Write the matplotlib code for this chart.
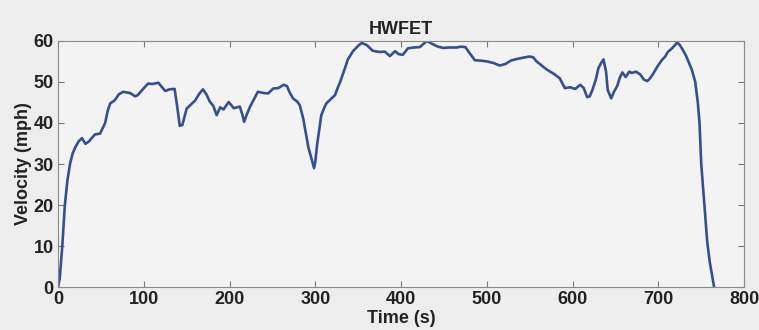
import matplotlib
matplotlib.use("Agg")
import matplotlib.pyplot as plt

time_s = [0, 2, 5, 8, 11, 14, 17, 20, 24, 28,
          32, 36, 43, 49, 55, 58, 61, 66, 71, 76,
          84, 90, 93, 98, 105, 110, 117, 121, 125, 130,
          136, 139, 142, 145, 150, 154, 160, 165, 169, 173,
          177, 181, 185, 189, 193, 199, 205, 212, 215, 217,
          220, 224, 229, 233, 240, 245, 251, 257, 263, 267,
          270, 274, 279, 282, 286, 289, 292, 296, 298.5, 300,
          302, 305, 307, 310, 313, 318, 323, 326, 329, 334,
          338, 344, 350, 354, 360, 367, 375, 381, 387, 393,
          397, 402, 408, 415, 422, 430, 437, 443, 449, 457,
          465, 470, 475, 480, 486, 493, 500, 508, 515, 522,
          528, 535, 542, 550, 554, 558, 564, 570, 578, 585,
          591, 597, 603, 609, 613, 617, 620, 623, 627, 630,
          633, 636, 639, 641, 645, 648, 652, 655, 658, 662,
          666, 669, 674, 679, 683, 687, 690, 694, 699, 704,
          708, 711, 716, 722, 725, 728, 732, 735, 739, 743,
          746, 748, 750, 753, 757, 760, 765]
velocity_mph = [0, 2, 10, 20, 26, 30, 32.5, 34, 35.5, 36.3,
                34.9, 35.5, 37.2, 37.4, 40, 43, 44.8, 45.5, 47, 47.6,
                47.3, 46.5, 46.8, 48, 49.6, 49.5, 49.8, 48.8, 47.8, 48.2,
                48.3, 44, 39.3, 39.5, 43.5, 44.3, 45.5, 47.2, 48.2, 47,
                45.2, 44.2, 41.9, 43.8, 43.3, 45.1, 43.6, 44, 42, 40.3,
                42, 44, 46, 47.6, 47.3, 47.2, 48.4, 48.5, 49.3, 49,
                47.5, 46, 45.2, 44.3, 41, 37.5, 34, 31, 29, 30.5,
                34.5, 39, 41.9, 43.5, 44.8, 45.8, 46.8, 48.5, 50, 53,
                55.5, 57.5, 58.8, 59.5, 59, 57.6, 57.3, 57.4, 56.3, 57.5,
                56.8, 56.6, 58.2, 58.4, 58.5, 60, 59.2, 58.6, 58.3, 58.4,
                58.4, 58.6, 58.5, 57, 55.3, 55.2, 55, 54.6, 54, 54.4,
                55.2, 55.6, 55.9, 56.2, 56, 55, 54, 53, 52, 50.9,
                48.5, 48.7, 48.3, 49.3, 48.5, 46.3, 46.5, 48, 50.5, 53.3,
                54.5, 55.5, 52.5, 48, 46, 47.5, 49, 51, 52.3, 51.2,
                52.5, 52.2, 52.5, 51.8, 50.6, 50.2, 50.8, 52, 53.8, 55.3,
                56.2, 57.3, 58.2, 59.6, 59, 58, 56.5, 55, 53, 50,
                45, 40, 30, 22, 11, 6, 0]

fig = plt.figure(figsize=(7.59, 3.30), dpi=100, facecolor="#ededed")
ax = fig.add_axes([0.0764, 0.130, 0.904, 0.746])
ax.set_facecolor("#f3f3f3")

ax.plot(time_s, velocity_mph, color="#34508f", lw=1.9, solid_joinstyle="round")

fam = ["Liberation Sans", "DejaVu Sans"]
font = dict(family=fam, weight="bold", size=13)
ax.set_xlim(0, 800)
ax.set_ylim(0, 60)
ax.set_xticks(range(0, 801, 100))
ax.set_yticks(range(0, 61, 10))
for lbl in ax.get_xticklabels() + ax.get_yticklabels():
    lbl.set_fontfamily(fam)
    lbl.set_fontweight("bold")
    lbl.set_fontsize(13)
    lbl.set_color("#222222")
ax.tick_params(direction="in", top=True, right=True, length=4, width=0.8,
               color="#777777")
ax.tick_params(axis="x", pad=3)
ax.tick_params(axis="y", pad=3)
for sp in ax.spines.values():
    sp.set_color("#8a8a8a")
    sp.set_linewidth(0.8)

ax.set_xlabel("Time (s)", labelpad=1, color="#222222", **font)
ax.set_ylabel("Velocity (mph)", labelpad=1, color="#222222", **font)
ax.set_title("HWFET", pad=5, color="#222222", **font)

fig.savefig("out.png", dpi=100, facecolor=fig.get_facecolor())
